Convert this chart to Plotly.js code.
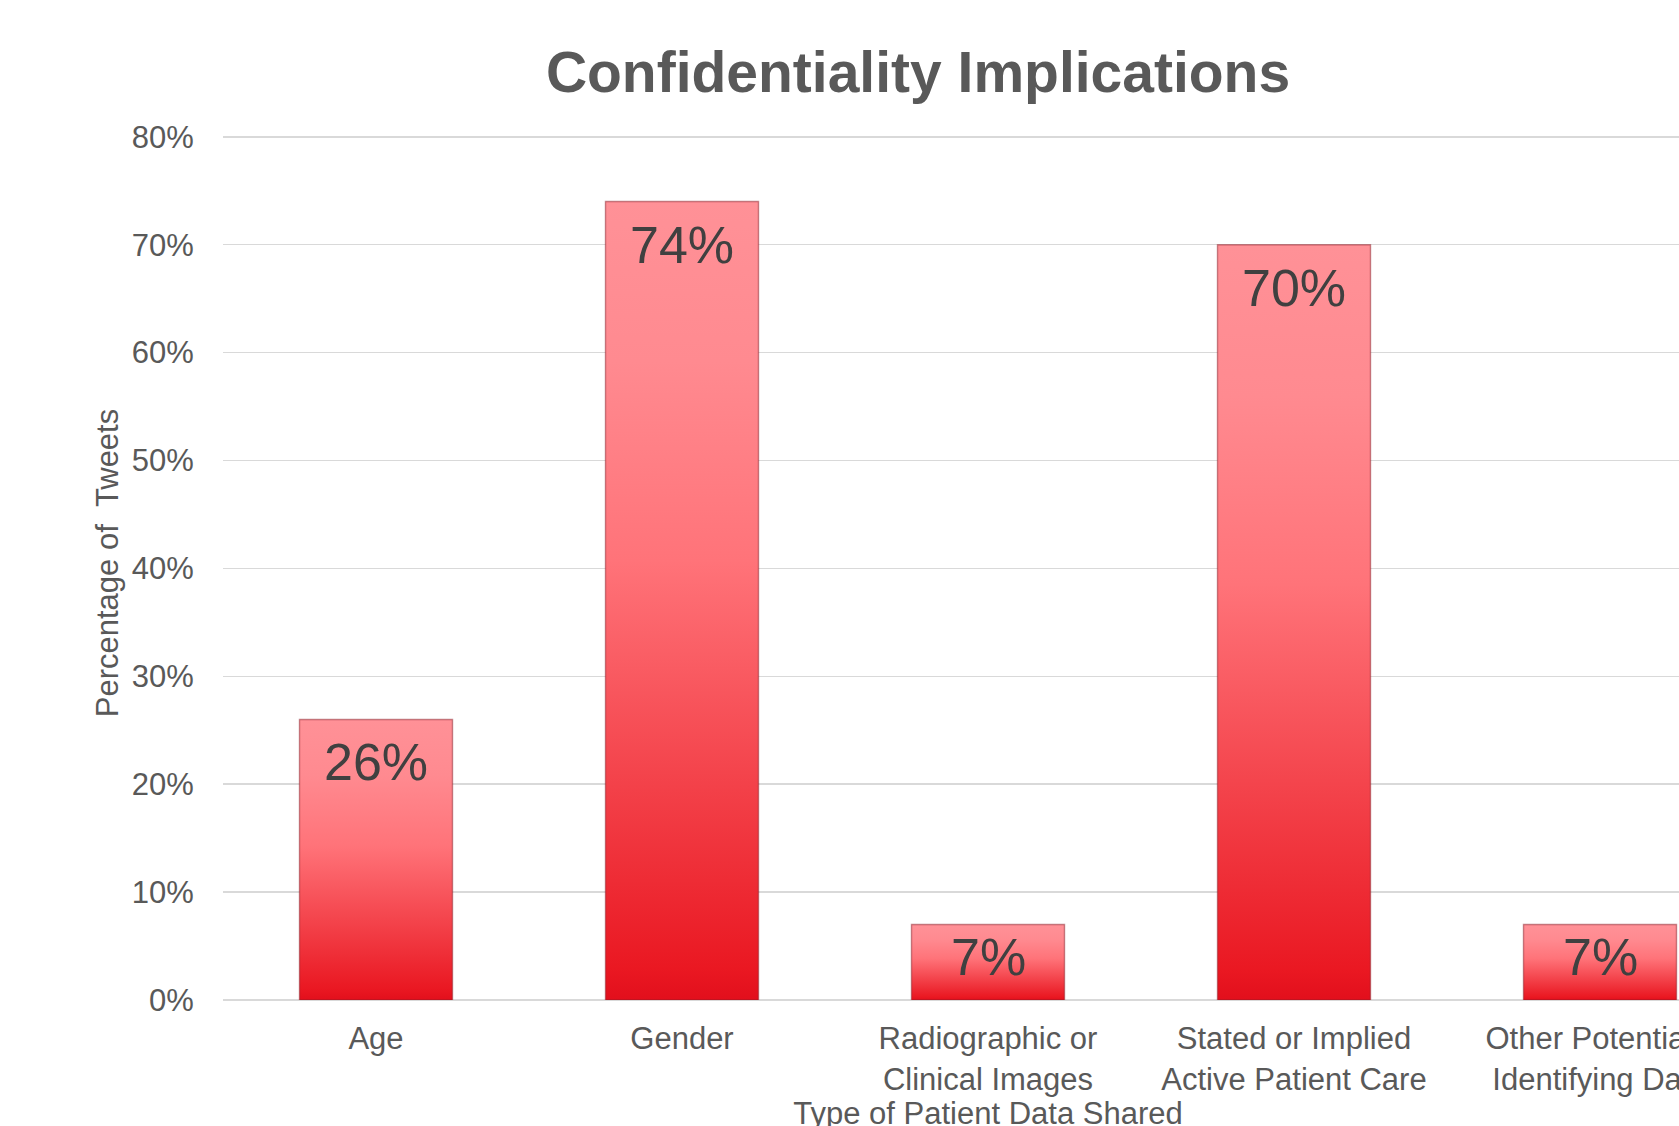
<!DOCTYPE html>
<html>
<head>
<meta charset="utf-8">
<script src="https://cdn.plot.ly/plotly-3.0.1.min.js"></script>
<style>
  html, body { margin: 0; padding: 0; overflow: hidden; background: #ffffff; }
  #chart { width: 1790px; height: 1160px; }
</style>
</head>
<body>
<div id="chart"></div>
<script>
// ---- Data ----
const categories = [
  "Age",
  "Gender",
  "Radiographic or<br>Clinical Images",
  "Stated or Implied<br>Active Patient Care",
  "Other Potentially<br>Identifying Data"
];
const values = [0.26, 0.74, 0.07, 0.70, 0.07];
const labels = ["26%", "74%", "7%", "70%", "7%"];
const yTickVals = [0, 0.1, 0.2, 0.3, 0.4, 0.5, 0.6, 0.7, 0.8];
const yTickText = ["0%", "10%", "20%", "30%", "40%", "50%", "60%", "70%", "80%"];

// ---- Styling ----
const barHalfWidth = 0.25;
const gradient = [[0, '#E20F1C'], [0.04, '#EA1822'], [0.15, '#EE2C35'], [0.55, '#FF7379'], [0.8, '#FF8A90'], [1, '#FF9197']];

const traces = [];
values.forEach((v, i) => {
  traces.push({
    type: 'scatter',
    mode: 'lines',
    x: [i - barHalfWidth, i + barHalfWidth, i + barHalfWidth, i - barHalfWidth, i - barHalfWidth],
    y: [0, 0, v, v, 0],
    fill: 'toself',
    fillgradient: { type: 'vertical', colorscale: gradient },
    line: { color: 'rgba(140,30,40,0.5)', width: 1.4 },
    hoverinfo: 'skip',
    showlegend: false
  });
});

const W = 1790, H = 1160;
const yMax = 0.81;
const y80px = 137, plotBottom = 1000;
const pxPerUnit = (plotBottom - y80px) / 0.8;
const plotTop = plotBottom - yMax * pxPerUnit;

const annotations = values.map((v, i) => {
  const hpx = v * pxPerUnit;
  const off = Math.min(43, hpx * 0.43);
  return {
    x: i, y: v, xref: 'x', yref: 'y',
    text: labels[i], showarrow: false,
    yanchor: 'middle', xanchor: 'center',
    yshift: -off,
    font: { family: 'Arial, "Liberation Sans", sans-serif', size: 52, color: '#404040' }
  };
});

const layout = {
  width: W, height: H,
  margin: { l: 223, r: W - 1753, t: plotTop, b: H - plotBottom },
  paper_bgcolor: '#ffffff', plot_bgcolor: '#ffffff',
  font: { family: 'Arial, "Liberation Sans", sans-serif', color: '#595959' },
  title: {
    text: '<b>Confidentiality Implications</b>',
    font: { family: 'Arial, "Liberation Sans", sans-serif', size: 57, color: '#595959' },
    x: 918 / W, xanchor: 'center', xref: 'container',
    y: 1 - 72 / H, yanchor: 'middle', yref: 'container'
  },
  xaxis: {
    range: [-0.5, 4.5],
    tickmode: 'array',
    tickvals: [0, 1, 2, 3, 4],
    ticktext: categories,
    tickfont: { size: 31, color: '#595959' },
    ticks: 'outside', ticklen: 11, tickcolor: 'rgba(0,0,0,0)',
    showgrid: false, zeroline: false, showline: false,
    title: { text: 'Type of Patient Data Shared', font: { size: 31, color: '#595959' }, standoff: 1 },
    automargin: false, fixedrange: true
  },
  yaxis: {
    range: [0, yMax],
    tickmode: 'array',
    tickvals: yTickVals,
    ticktext: yTickText,
    tickfont: { size: 31, color: '#595959' },
    ticks: 'outside', ticklen: 22, tickcolor: 'rgba(0,0,0,0)',
    showgrid: true, gridcolor: '#D9D9D9', gridwidth: 1.5,
    zeroline: true, zerolinecolor: '#D9D9D9', zerolinewidth: 2,
    showline: false,
    title: { text: 'Percentage of \u00a0Tweets', font: { size: 31, color: '#595959' }, standoff: 3 },
    automargin: false, fixedrange: true
  },
  annotations: annotations,
  showlegend: false
};

Plotly.newPlot('chart', traces, layout, { displayModeBar: false, staticPlot: true });
</script>
</body>
</html>
